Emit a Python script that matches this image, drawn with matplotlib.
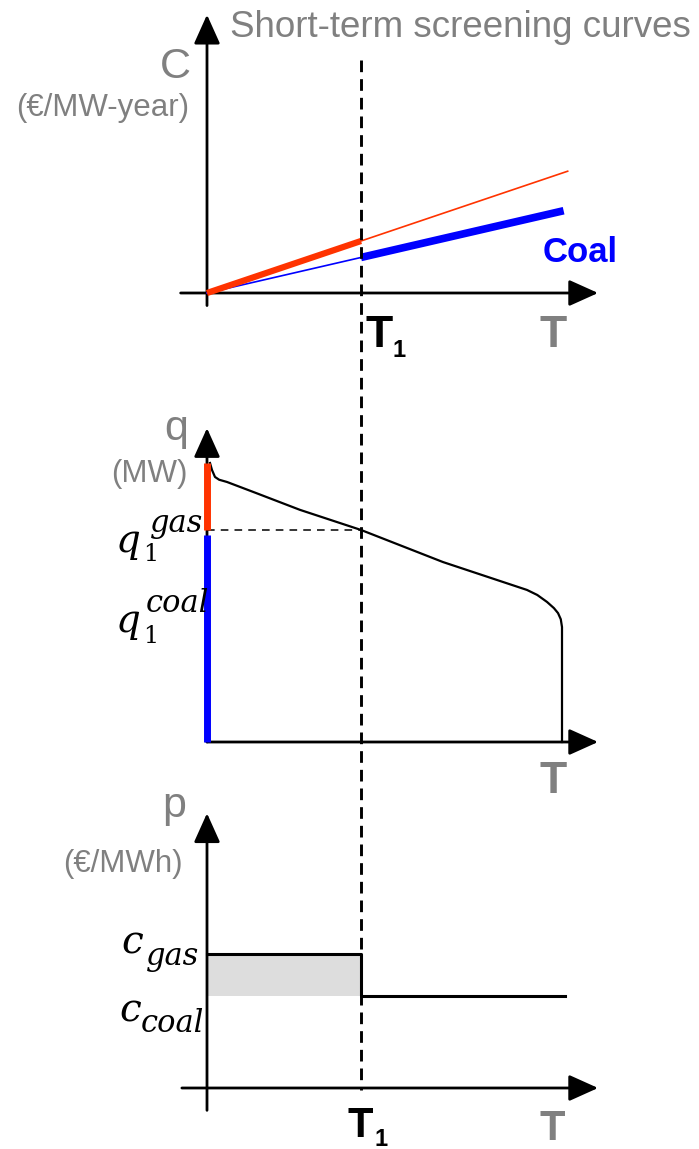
import matplotlib.pyplot as plt
from matplotlib.lines import Line2D
from matplotlib.transforms import blended_transform_factory

# ---- data -------------------------------------------------------------
T1 = 3800          # hours where coal takes over
T_year = 8760
c_gas = 60         # EUR/MWh
c_coal = 41

# screening curves C = c * T (EUR/MW-year)
T_gas_line = [0, T1, 8900]
T_coal_line = [0, T1, 8800]

# load duration curve (MW over hours)
ldc_T = [74, 123, 197, 300, 493, 1200, 2295, 3800, 5823, 7896, 8150, 8390,
         8560, 8662, 8730, 8760, 8760]
ldc_q = [1000, 975, 950, 940, 932, 893, 832, 760, 645, 545, 527, 502,
         480, 462, 440, 412, 0]
q_peak = 1000
q1 = 760

# price duration curve
price_T = [0, T1, T1, 8830]
price_p = [c_gas, c_gas, c_coal, c_coal]

RED = '#ff3300'
BLUE = '#0000ff'
GREY = '#808080'

W, H = 699, 1149
sx = 355 / T_year   # px per hour

fig = plt.figure(figsize=(W / 100, H / 100), dpi=100)


def panel(top, bottom, y0, k):
    ax = fig.add_axes([0, 1 - bottom / H, 1, (bottom - top) / H])
    ax.set_xlim(-207 / sx, (W - 207) / sx)
    ax.set_ylim((y0 - bottom) / k, (y0 - top) / k)
    ax.axis('off')
    return ax


def axis_arrow(ax, x0, y0, x1, y1):
    ax.annotate('', xy=(x1, y1), xytext=(x0, y0),
                arrowprops=dict(arrowstyle='-|>,head_length=1.0,head_width=0.45',
                                mutation_scale=18, lw=2, color='black',
                                shrinkA=0, shrinkB=0), zorder=2)


def ftext(x, y, s, **kw):
    fig.text(x / W, 1 - y / H, s, **kw)


ax1 = panel(0, 380, 293, 52 / (c_gas * T1))
ax2 = panel(380, 780, 742, 279 / q_peak)
ax3 = panel(780, 1149, 1088, 134 / c_gas)

# ---- panel 1 : screening curves --------------------------------------
axis_arrow(ax1, -650, 0, 9650, 0)
axis_arrow(ax1, 0, -55000, 0, 1.22e6)
ax1.plot(T_gas_line, [c_gas * t for t in T_gas_line], color=RED, lw=1.2, zorder=4)
ax1.plot(T_coal_line[:2], [c_coal * t for t in T_coal_line[:2]], color=BLUE,
         lw=1.2, zorder=4)
ax1.plot(T_gas_line[:2], [c_gas * t for t in T_gas_line[:2]], color=RED, lw=4.5,
         solid_capstyle='butt', zorder=5)
ax1.plot(T_coal_line[1:], [c_coal * t for t in T_coal_line[1:]], color=BLUE, lw=5.5,
         solid_capstyle='butt', zorder=5)

# ---- panel 2 : load duration curve -----------------------------------
axis_arrow(ax2, 0, 0, 9650, 0)
axis_arrow(ax2, 0, 0, 0, 1125)
ax2.plot(ldc_T, ldc_q, color='black', lw=1.6, zorder=4)
ax2.plot([0, 0], [q1, q_peak], color=RED, lw=5, solid_capstyle='butt', zorder=5)
ax2.plot([0, 0], [0, q1 * 0.975], color=BLUE, lw=5, solid_capstyle='butt', zorder=5)
ax2.plot([0, T1], [q1, q1], color='black', lw=1.1, ls=(0, (5, 4)), zorder=4)

# ---- panel 3 : price duration curve ----------------------------------
ax3.fill_between([0, T1], c_coal, c_gas, color='#dddddd', lw=0, zorder=1)
axis_arrow(ax3, -620, 0, 9650, 0)
axis_arrow(ax3, 0, -10, 0, 123)
ax3.plot(price_T, price_p, color='black', lw=2.2, zorder=4)

# dashed T1 line through all panels
tr = blended_transform_factory(ax1.transData, fig.transFigure)
fig.add_artist(Line2D([T1, T1], [1 - 60 / H, 1 - 1090 / H], transform=tr,
                      color='black', lw=2.1, ls=(0, (4, 2.4))))

# ---- labels ------------------------------------------------------------
sans = 'Liberation Sans'
ftext(230, 37, 'Short-term screening curves', color=GREY, fontsize=26.5,
      family=sans, va='baseline')
ftext(191, 78, 'C', color=GREY, fontsize=31, family=sans, ha='right', va='baseline')
ftext(189, 116, '(€/MW-year)', color=GREY, fontsize=22.5, family=sans,
      ha='right', va='baseline')
ftext(543, 262, 'Coal', color=BLUE, fontsize=25, family=sans, weight='bold',
      va='baseline')
ftext(365, 347, 'T', fontsize=32, family=sans, weight='bold', va='baseline')
ftext(392, 357, '1', fontsize=17, family=sans, weight='bold', va='baseline')
ftext(540, 347, 'T', color=GREY, fontsize=32, family=sans, weight='bold',
      va='baseline')

ftext(188, 440, 'q', color=GREY, fontsize=31, family=sans, ha='right', va='baseline')
ftext(188, 482, '(MW)', color=GREY, fontsize=22.5, family=sans, ha='right',
      va='baseline')
ftext(540, 793, 'T', color=GREY, fontsize=32, family=sans, weight='bold',
      va='baseline')

serif = 'DejaVu Serif'
ftext(116, 552, 'q', fontsize=28, family=serif, style='italic', va='baseline')
ftext(143, 561, '1', fontsize=17, family=serif, va='baseline')
ftext(150, 532, 'gas', fontsize=22, family=serif, style='italic', va='baseline')
ftext(116, 632, 'q', fontsize=28, family=serif, style='italic', va='baseline')
ftext(143, 643, '1', fontsize=17, family=serif, va='baseline')
ftext(146, 612, 'coal', fontsize=22, family=serif, style='italic', va='baseline')

ftext(186, 817, 'p', color=GREY, fontsize=31, family=sans, ha='right', va='baseline')
ftext(183, 872, '(€/MWh)', color=GREY, fontsize=22.5, family=sans, ha='right',
      va='baseline')
ftext(121, 953, 'c', fontsize=28, family=serif, style='italic', va='baseline')
ftext(146, 965, 'gas', fontsize=22, family=serif, style='italic', va='baseline')
ftext(119, 1021, 'c', fontsize=28, family=serif, style='italic', va='baseline')
ftext(141, 1032, 'coal', fontsize=22, family=serif, style='italic', va='baseline')

ftext(347, 1137, 'T', fontsize=30, family=sans, weight='bold', va='baseline')
ftext(374, 1146, '1', fontsize=17, family=sans, weight='bold', va='baseline')
ftext(540, 1140, 'T', color=GREY, fontsize=30, family=sans, weight='bold',
      va='baseline')

fig.savefig('out.png', dpi=100)
